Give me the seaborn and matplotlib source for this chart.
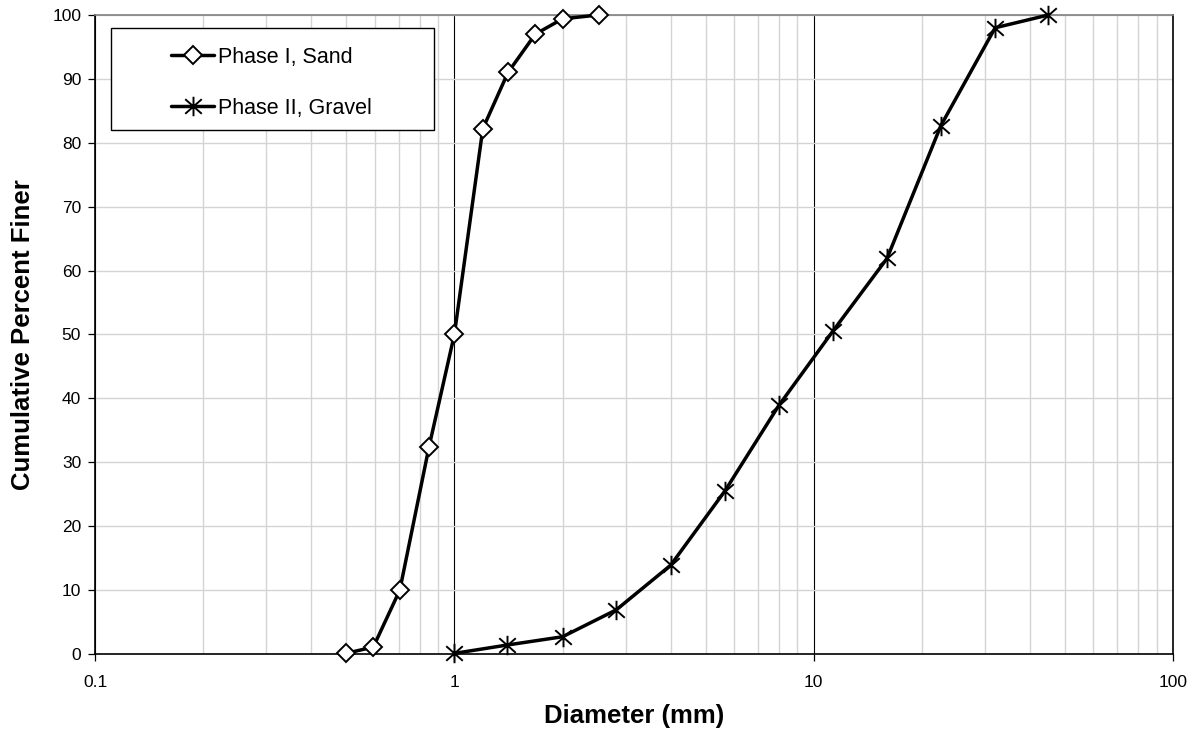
import numpy as np
import pandas as pd
import seaborn as sns
import matplotlib.pyplot as plt
from matplotlib.patches import Rectangle
from matplotlib.path import Path
from matplotlib.ticker import FixedLocator, LogLocator, NullFormatter

# data
sand_d = [0.5, 0.595, 0.705, 0.85, 1.0, 1.2, 1.41, 1.68, 2.0, 2.52]
sand_pct = [0.1, 1.1, 10.0, 32.4, 50.0, 82.2, 91.0, 97.0, 99.4, 100.0]
gravel_d = [1.0, 1.40, 2.0, 2.82, 4.0, 5.66, 8.0, 11.3, 16.0, 22.6, 32.0, 45.0]
gravel_pct = [0.1, 1.4, 2.7, 6.9, 13.9, 25.5, 38.9, 50.5, 61.9, 82.7, 98.0, 100.0]
x_ticks = [0.1, 1, 10, 100]
x_labels = ['0.1', '1', '10', '100']
y_ticks = list(range(0, 101, 10))

sns.set_theme(style='white')
plt.rcParams['font.family'] = ['Liberation Sans', 'DejaVu Sans']

# excel style asterisk: vertical bar plus an X
star = Path([(0, -1), (0, 1), (-0.85, -0.75), (0.85, 0.75),
             (-0.85, 0.75), (0.85, -0.75)],
            [Path.MOVETO, Path.LINETO, Path.MOVETO, Path.LINETO,
             Path.MOVETO, Path.LINETO])

fig = plt.figure(figsize=(11.94, 7.38), dpi=100)
ax = fig.add_axes([0.0796, 0.1138, 0.9028, 0.8659])

sand_df = pd.DataFrame({'d': sand_d, 'pct': sand_pct})
gravel_df = pd.DataFrame({'d': gravel_d, 'pct': gravel_pct})

sns.lineplot(data=sand_df, x='d', y='pct', ax=ax, color='black', lw=2.5,
             marker='D', markersize=8.8, markerfacecolor='white',
             markeredgecolor='black', markeredgewidth=1.4,
             errorbar=None, label='Phase I, Sand', clip_on=False, zorder=5)
sns.lineplot(data=gravel_df, x='d', y='pct', ax=ax, color='black', lw=2.5,
             marker=star, markersize=14, markeredgecolor='black',
             markeredgewidth=1.4, errorbar=None, label='Phase II, Gravel',
             clip_on=False, zorder=5)

ax.set_xscale('log')
ax.set_xlim(0.1, 100)
ax.set_ylim(0, 100)
ax.xaxis.set_major_locator(FixedLocator(x_ticks))
ax.set_xticklabels(x_labels)
ax.xaxis.set_minor_locator(LogLocator(base=10, subs=np.arange(2, 10)))
ax.xaxis.set_minor_formatter(NullFormatter())
ax.set_yticks(y_ticks)

# grid: light gray, but the major verticals are black
ax.set_axisbelow(True)
ax.grid(True, axis='y', color='#d4d4d4', lw=1)
ax.grid(True, axis='x', which='minor', color='#d4d4d4', lw=1)
ax.grid(True, axis='x', which='major', color='black', lw=0.8)

ax.tick_params(axis='both', which='major', direction='out', length=5,
               width=0.9, color='black', labelsize=12.5, labelcolor='black',
               bottom=True, left=True)
ax.tick_params(axis='x', which='major', pad=10)
ax.tick_params(axis='y', which='major', pad=5)
ax.tick_params(axis='x', which='minor', length=0)

for side in ['left', 'bottom', 'right']:
    ax.spines[side].set_color('black')
    ax.spines[side].set_linewidth(1.2)
ax.spines['top'].set_color('#7f7f7f')
ax.spines['top'].set_linewidth(1.2)

ax.set_xlabel('Diameter (mm)', fontsize=18.5, fontweight='bold',
              color='black', labelpad=10)
ax.set_ylabel('Cumulative Percent Finer', fontsize=18.5, fontweight='bold',
              color='black', labelpad=12)

# legend box drawn as its own frame, entries inside
ax.add_patch(Rectangle((0.0148, 0.820), 0.2997, 0.1597, transform=ax.transAxes,
                       facecolor='white', edgecolor='black', lw=1, zorder=6))
leg = ax.legend(loc='center left', bbox_to_anchor=(0.0705, 0.894),
                frameon=False, fontsize=15.5, handlelength=2.0,
                handletextpad=0.2, labelspacing=1.38, borderpad=0,
                borderaxespad=0, labelcolor='black')
leg.set_zorder(7)

fig.savefig('out.png', dpi=100)
